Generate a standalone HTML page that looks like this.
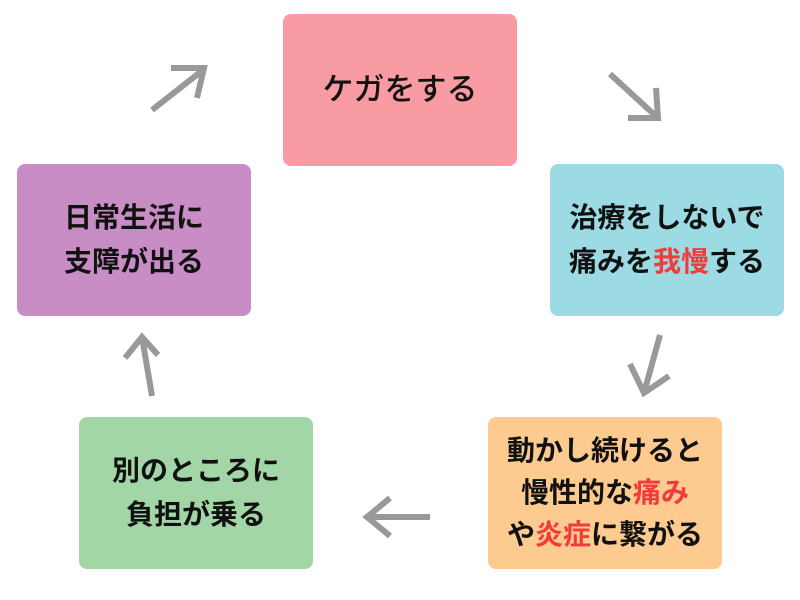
<!DOCTYPE html>
<html><head><meta charset="utf-8"><style>
body{margin:0;width:800px;height:600px;background:#fff;overflow:hidden;position:relative;font-family:"Liberation Sans","Noto Sans CJK JP",sans-serif}
.b{position:absolute;width:234px;height:152px;border-radius:8px;display:flex;align-items:center;justify-content:center;text-align:center;font-weight:bold;font-size:28px;line-height:44px;color:#111}
.b>div{display:block;white-space:nowrap}
.r{color:#f03c3c}
svg{position:absolute;left:0;top:0}
</style></head><body>
<div class="b" style="left:283px;top:14px;background:#f99ba3;font-weight:500;font-size:31px"><div>ケガをする</div></div>
<div class="b" style="left:550px;top:164px;background:#9ddbe4"><div>治療をしないで<br>痛みを<span class="r">我慢</span>する</div></div>
<div class="b" style="left:488px;top:417px;background:#fdca8f;line-height:42px"><div>動かし続けると<br>慢性的な<span class="r">痛み</span><br>や<span class="r">炎症</span>に繋がる</div></div>
<div class="b" style="left:79px;top:417px;background:#a3d6a6"><div>別のところに<br>負担が乗る</div></div>
<div class="b" style="left:17px;top:164px;background:#c88dc5"><div>日常生活に<br>支障が出る</div></div>
<svg width="800" height="600" fill="none" stroke="#999" stroke-width="6">
<path d="M152 110 L203 70 M171 68 L204 68 L197 98"/>
<path d="M610 74 L658 118 M628 118 L658 118 L656 88"/>
<path d="M660 335 L644 393 M630 364 L644 393 L669 376"/>
<path d="M430 517 L367 517 M390 498 L367 517 L390 536"/>
<path d="M152 396 L142 337 M125 358 L142 337 L158 355"/>
</svg>
</body></html>
